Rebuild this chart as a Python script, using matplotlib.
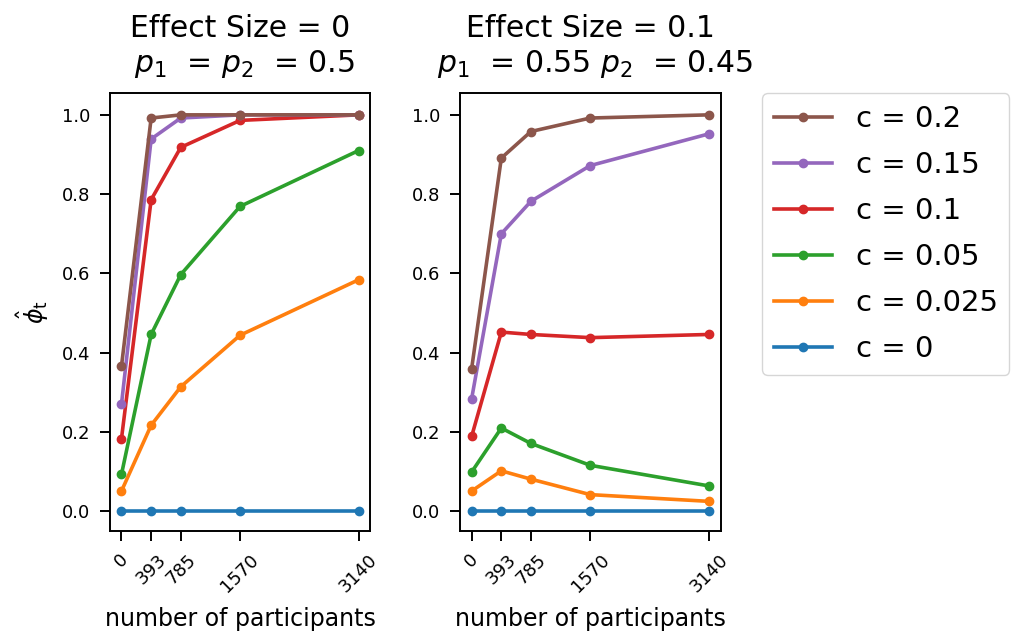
import matplotlib
matplotlib.use("Agg")
import matplotlib.pyplot as plt

participants = [0, 393, 785, 1570, 3140]
c_labels = ["c = 0", "c = 0.025", "c = 0.05", "c = 0.1", "c = 0.15", "c = 0.2"]
colors = ["tab:blue", "tab:orange", "tab:green", "tab:red", "tab:purple", "tab:brown"]

# effect size 0 (p1 = p2 = 0.5)
phi_null = [
    [0.0, 0.0, 0.0, 0.0, 0.0],
    [0.051, 0.217, 0.314, 0.444, 0.584],
    [0.093, 0.446, 0.597, 0.769, 0.910],
    [0.183, 0.786, 0.918, 0.986, 1.0],
    [0.270, 0.939, 0.992, 1.0, 1.0],
    [0.366, 0.992, 1.0, 1.0, 1.0],
]

# effect size 0.1 (p1 = 0.55, p2 = 0.45)
phi_effect = [
    [0.0, 0.0, 0.0, 0.0, 0.0],
    [0.051, 0.102, 0.081, 0.042, 0.025],
    [0.099, 0.210, 0.171, 0.116, 0.064],
    [0.189, 0.452, 0.446, 0.438, 0.446],
    [0.284, 0.700, 0.782, 0.872, 0.952],
    [0.360, 0.891, 0.958, 0.992, 1.0],
]

titles = ["Effect Size = 0\n $p_1$  = $p_2$  = 0.5",
          "Effect Size = 0.1\n $p_1$  = 0.55 $p_2$  = 0.45"]

fig = plt.figure(figsize=(10.15, 6.33), dpi=100)
ax1 = fig.add_axes([0.108, 0.161, 0.257, 0.692])
ax2 = fig.add_axes([0.453, 0.161, 0.257, 0.692])

for ax, data, title in [(ax1, phi_null, titles[0]), (ax2, phi_effect, titles[1])]:
    for vals, lab, col in zip(data, c_labels, colors):
        ax.plot(participants, vals, "o-", color=col, label=lab,
                linewidth=2.6, markersize=6)
    ax.set_title(title, fontsize=21.5, pad=15)
    ax.set_xticks(participants)
    ax.set_xticklabels([str(p) for p in participants], rotation=45)
    ax.tick_params(labelsize=13, length=7, width=1.4, pad=7)
    for sp in ax.spines.values():
        sp.set_linewidth(1.4)
    ax.set_xlabel("number of participants", fontsize=17, labelpad=8)
    ax.set_ylim(-0.05, 1.055)

ax1.set_ylabel(r"$\hat{\phi}_\mathrm{t}$", fontsize=17, labelpad=8)

handles, labels = ax2.get_legend_handles_labels()
ax2.legend(handles[::-1], labels[::-1], loc="upper left",
           bbox_to_anchor=(1.16, 1.0), fontsize=21, borderaxespad=0,
           labelspacing=0.62)

plt.savefig("out.png", dpi=100)
